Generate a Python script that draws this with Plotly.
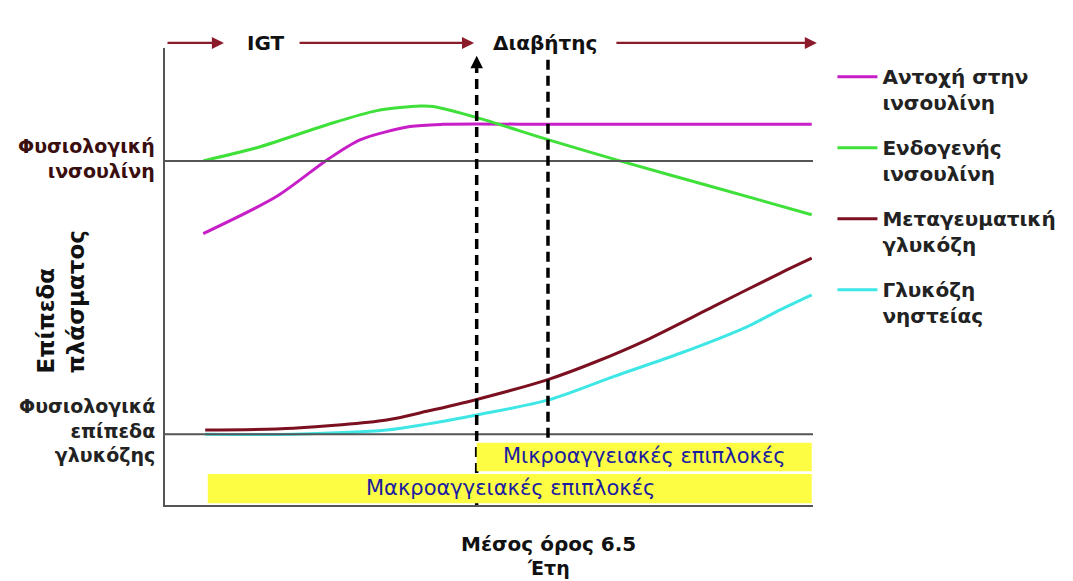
import plotly.graph_objects as go

# Time runs left to right in arbitrary units; plasma levels in arbitrary units.
# Insulin resistance
resist_x = [5.9, 17.2, 25.0, 30.1, 37.8, 42.9, 60.0, 80.0, 99.8]
resist_y = [59.4, 67.5, 75.5, 79.9, 82.8, 83.3, 83.3, 83.3, 83.3]

# Endogenous insulin secretion
insulin_x = [5.9, 14.7, 25.0, 32.7, 39.4, 41.4, 48.3, 59.2, 70.2, 84.6, 99.8]
insulin_y = [75.3, 78.4, 83.2, 86.3, 87.3, 87.2, 84.7, 79.9, 75.3, 69.6, 63.5]

# Post-prandial glucose
ppg_x = [6.2, 19.8, 34.2, 40.4, 48.1, 59.2, 66.6, 74.3, 84.6, 94.9, 99.8]
ppg_y = [16.4, 16.8, 18.6, 20.5, 23.1, 27.5, 31.4, 36.1, 43.4, 50.7, 54.0]

# Fasting glucose
fpg_x = [6.2, 19.8, 34.2, 40.4, 48.1, 59.2, 69.2, 79.5, 89.8, 94.9, 99.8]
fpg_y = [15.5, 15.5, 16.4, 17.7, 19.7, 23.0, 28.1, 33.2, 39.0, 42.7, 46.0]

series_names = [
    "Αντοχή στην<br>ινσουλίνη",
    "Ενδογενής<br>ινσουλίνη",
    "Μεταγευματική<br>γλυκόζη",
    "Γλυκόζη<br>νηστείας",
]
series_colors = ["#c81ec8", "#3fe03a", "#7a1020", "#3ee6e6"]

# Reference (normal) levels
normal_insulin = 75.3
normal_glucose = 15.5

# Stage markers
igt_onset = 48.1
diabetes_dx = 59.1

# Complication periods (start, end) and their bands
micro_period = (48.1, 99.8)
macro_period = (6.6, 99.8)
micro_band = (7.4, 13.6)
macro_band = (0.4, 6.8)

FONT = "DejaVu Sans"
ARROW_RED = "#8b1a2b"
AXIS_GREY = "#555555"

fig = go.Figure()
for xs, ys, name, color in zip(
    [resist_x, insulin_x, ppg_x, fpg_x],
    [resist_y, insulin_y, ppg_y, fpg_y],
    series_names,
    series_colors,
):
    fig.add_trace(
        go.Scatter(
            x=xs, y=ys, name=name, mode="lines",
            line=dict(color=color, width=3, shape="spline", smoothing=0.8),
            legendgroup=name,
        )
    )

shapes = []
# normal level reference lines
for lvl in (normal_insulin, normal_glucose):
    shapes.append(dict(type="line", xref="x", yref="y", x0=0, x1=100.2, y0=lvl, y1=lvl,
                       line=dict(color=AXIS_GREY, width=2), layer="above"))
# stage dashed verticals
shapes.append(dict(type="line", xref="x", yref="y", x0=igt_onset, x1=igt_onset, y0=0, y1=95.5,
                   line=dict(color="black", width=3.5, dash="10px,6px"), layer="above"))
shapes.append(dict(type="line", xref="x", yref="y", x0=diabetes_dx, x1=diabetes_dx, y0=-2.8, y1=98.2,
                   line=dict(color="black", width=3.5, dash="10px,6px"), layer="above"))
# complication bands
shapes.append(dict(type="rect", xref="x", yref="y", x0=micro_period[0], x1=micro_period[1],
                   y0=micro_band[0], y1=micro_band[1], fillcolor="#fdfd44",
                   line=dict(width=0), layer="above"))
shapes.append(dict(type="rect", xref="x", yref="y", x0=macro_period[0], x1=macro_period[1],
                   y0=macro_band[0], y1=macro_band[1], fillcolor="#fdfd44",
                   line=dict(width=0), layer="above"))

annotations = []
# top stage arrows (head position in plot fraction, tail offset in pixels)
top_y = 1.011
for head, length in [(0.091, 58), (0.477, 176), (1.006, 202)]:
    annotations.append(dict(xref="paper", yref="paper", x=head, y=top_y, ax=-length, ay=0,
                            axref="pixel", ayref="pixel",
                            text="", showarrow=True, arrowhead=2, arrowsize=1.1, arrowwidth=2.2,
                            arrowcolor=ARROW_RED))
annotations.append(dict(xref="paper", yref="paper", x=0.156, y=top_y, xanchor="center",
                        yanchor="middle", text="<b>IGT</b>", showarrow=False,
                        font=dict(family=FONT, size=20, color="#111111")))
annotations.append(dict(xref="paper", yref="paper", x=0.587, y=top_y, xanchor="center",
                        yanchor="middle", text="<b>Διαβήτης</b>", showarrow=False,
                        font=dict(family=FONT, size=20, color="#111111")))
# upward arrow head on the first dashed marker
annotations.append(dict(xref="x", yref="y", axref="x", ayref="y", x=igt_onset, y=98.3,
                        ax=igt_onset, ay=94.5, text="", showarrow=True, arrowhead=2,
                        arrowsize=1, arrowwidth=2.5, arrowcolor="black"))
# band labels
annotations.append(dict(xref="x", yref="y", x=74.0, y=sum(micro_band) / 2 + 0.2,
                        text="Μικροαγγειακές επιπλοκές", showarrow=False,
                        font=dict(family=FONT, size=21, color="#1c1ca0")))
annotations.append(dict(xref="x", yref="y", x=53.3, y=sum(macro_band) / 2 + 0.2,
                        text="Μακροαγγειακές επιπλοκές", showarrow=False,
                        font=dict(family=FONT, size=21, color="#1c1ca0")))
# left-side level labels
annotations.append(dict(xref="paper", yref="y", x=-0.012, y=normal_insulin + 0.6, xanchor="right",
                        yanchor="middle", align="right",
                        text="<b>Φυσιολογική<br>ινσουλίνη</b>", showarrow=False,
                        font=dict(family=FONT, size=19, color="#3a0e0e")))
annotations.append(dict(xref="paper", yref="y", x=-0.012, y=normal_glucose + 0.7, xanchor="right",
                        yanchor="middle", align="right",
                        text="<b>Φυσιολογικά<br>επίπεδα<br>γλυκόζης</b>", showarrow=False,
                        font=dict(family=FONT, size=19, color="#222222")))
annotations.append(dict(xref="paper", yref="y", x=-0.16, y=44.4, xanchor="center",
                        yanchor="middle", align="left", textangle=-90,
                        text="<b>Επίπεδα<br>πλάσματος</b>", showarrow=False,
                        font=dict(family=FONT, size=23, color="#111111")))
# time label below the diagnosis marker
annotations.append(dict(xref="paper", yref="paper", x=0.592, y=-0.085, xanchor="center",
                        yanchor="middle", text="<b>Μέσος όρος 6.5</b>", showarrow=False,
                        font=dict(family=FONT, size=20, color="#111111")))
annotations.append(dict(xref="paper", yref="paper", x=0.592, y=-0.137, xanchor="center",
                        yanchor="middle", text="<b>Έτη</b>", showarrow=False,
                        font=dict(family=FONT, size=19, color="#111111")))

fig.update_layout(
    width=1073, height=581,
    margin=dict(l=165, r=260, t=48, b=76),
    paper_bgcolor="white", plot_bgcolor="white",
    xaxis=dict(range=[0, 100], showgrid=False, zeroline=False, showticklabels=False,
               ticks="", showline=True, linecolor=AXIS_GREY, linewidth=2),
    yaxis=dict(range=[0, 100], showgrid=False, zeroline=False, showticklabels=False,
               ticks="", showline=True, linecolor=AXIS_GREY, linewidth=2),
    shapes=shapes,
    annotations=annotations,
    showlegend=True,
    legend=dict(x=1.03, y=0.98, xanchor="left", yanchor="top", valign="top",
                traceorder="grouped", tracegroupgap=16, itemwidth=40,
                font=dict(family=FONT, size=20, color="#222222", weight="bold"),
                bgcolor="rgba(0,0,0,0)"),
)

fig.write_html("out.html")
